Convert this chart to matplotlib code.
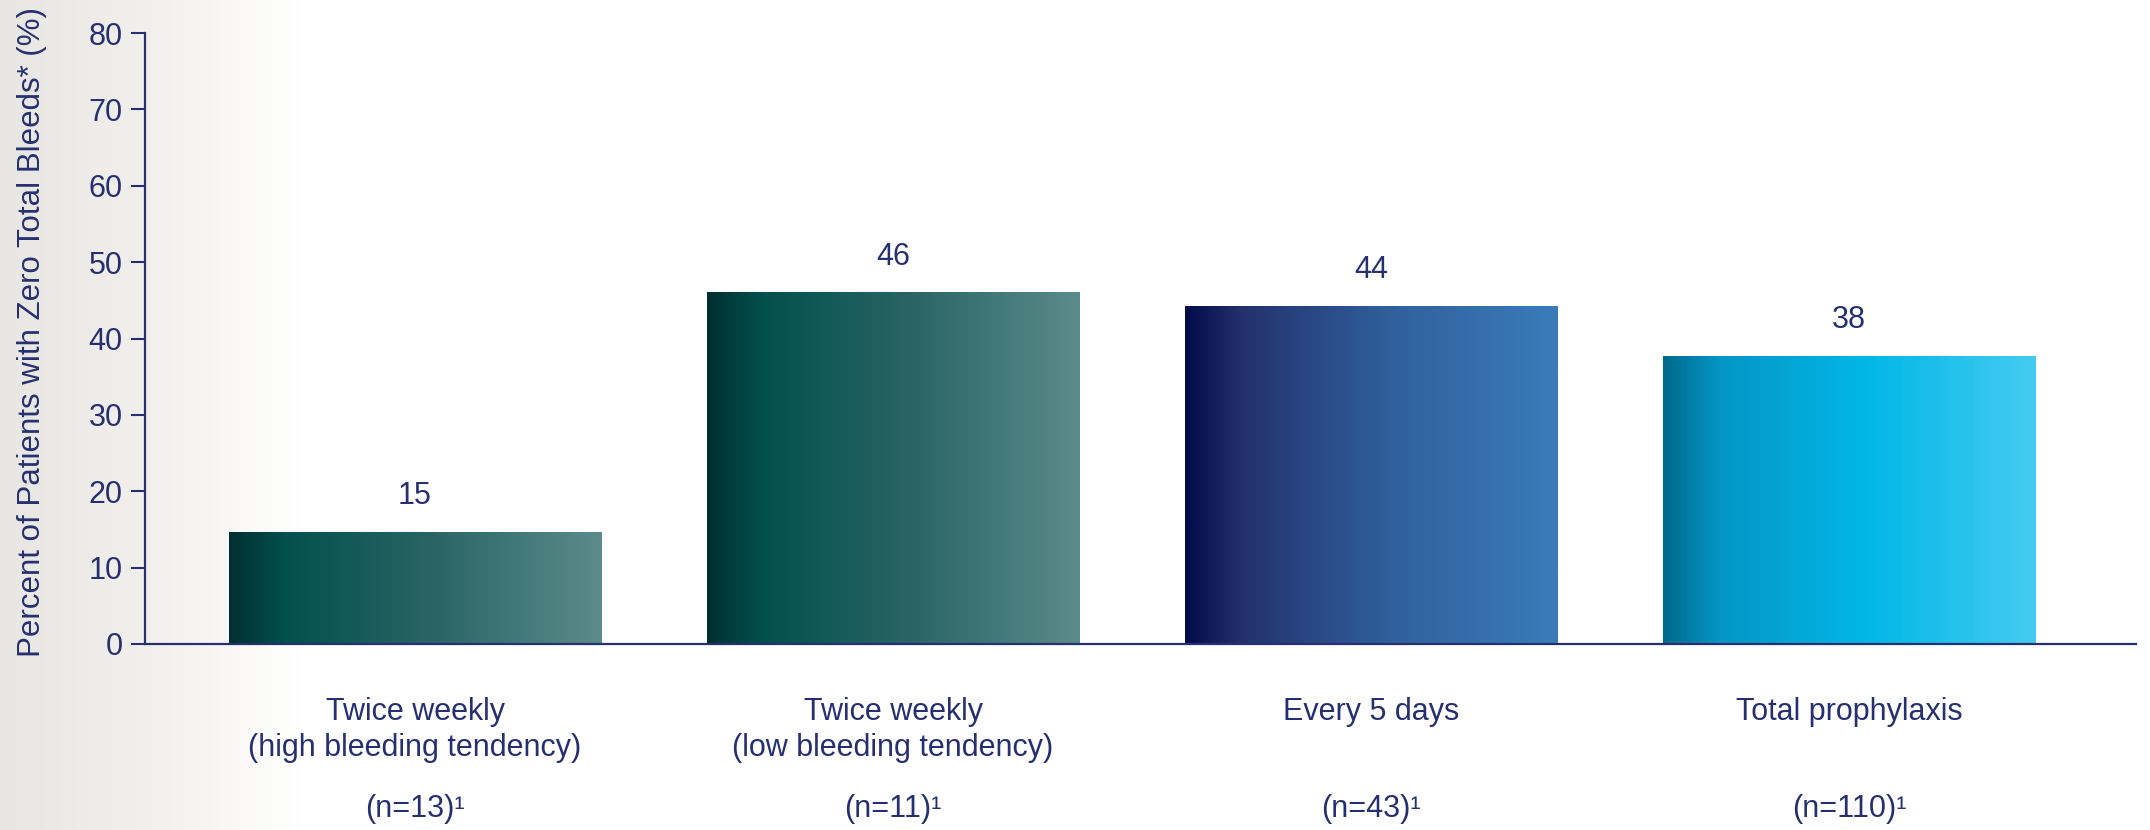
import numpy as np
import matplotlib
matplotlib.use("Agg")
import matplotlib.pyplot as plt
from matplotlib.colors import LinearSegmentedColormap
from matplotlib.transforms import blended_transform_factory

plt.rcParams['font.family'] = ['Liberation Sans', 'DejaVu Sans']

# data
categories = ["Twice weekly\n(high bleeding tendency)",
              "Twice weekly\n(low bleeding tendency)",
              "Every 5 days",
              "Total prophylaxis"]
n_labels = ["(n=13)\u00b9", "(n=11)\u00b9", "(n=43)\u00b9", "(n=110)\u00b9"]
values = [14.6, 46.0, 44.2, 37.7]
value_labels = ["15", "46", "44", "38"]
yticks = [0, 10, 20, 30, 40, 50, 60, 70, 80]

navy = "#263070"
fs = 22

# left-to-right gradient stops for each bar
bar_grads = [
    ["#00302f", "#02504f", "#2a6564", "#5a8c8b"],
    ["#00302f", "#02504f", "#2a6564", "#5a8c8b"],
    ["#020a4a", "#23316c", "#30609c", "#3a7cba"],
    ["#006a8c", "#0495c6", "#02b8e6", "#45cbf2"],
]

fig = plt.figure(figsize=(21.5, 8.3), dpi=100)

# faint grey wash along the left edge only
bg = fig.add_axes([0, 0, 1, 1], zorder=-10)
bg_cmap = LinearSegmentedColormap.from_list("bg", ["#e8e6e2", "#f2f0ed", "#ffffff"])
bg.imshow(np.linspace(0, 1, 256)[None, :], cmap=bg_cmap, aspect="auto",
          extent=[0, 0.14, 0, 1])
bg.set_xlim(0, 1)
bg.set_ylim(0, 1)
bg.set_axis_off()

ax = fig.add_axes([0.0674, 0.2241, 0.9261, 0.7361])
ax.patch.set_alpha(0)

x = np.arange(len(values))
bars = ax.bar(x, values, width=0.78, color="none", edgecolor="none")

grad = np.linspace(0, 1, 256)[None, :]
for b, stops in zip(bars, bar_grads):
    cmap = LinearSegmentedColormap.from_list("g", list(zip([0, 0.15, 0.55, 1.0], stops)))
    x0, w, h = b.get_x(), b.get_width(), b.get_height()
    ax.imshow(grad, cmap=cmap, aspect="auto", extent=[x0, x0 + w, 0, h], zorder=2)

for b, lab in zip(bars, value_labels):
    ax.annotate(lab, (b.get_x() + b.get_width() / 2, b.get_height()),
                xytext=(0, 26), textcoords="offset points",
                ha="center", va="center", fontsize=fs, color=navy)

ax.set_xlim(-0.565, 3.6)
ax.set_ylim(0, 80)
ax.set_yticks(yticks)
ax.set_xticks(x)
ax.set_xticklabels(categories, fontsize=fs, color=navy, linespacing=1.25)
ax.tick_params(axis="x", length=0, pad=38)
ax.tick_params(axis="y", length=10, width=1.5, color=navy, labelsize=fs,
               labelcolor=navy, pad=6)

trans = blended_transform_factory(ax.transData, ax.transAxes)
for xi, nl in zip(x, n_labels):
    ax.text(xi, -0.27, nl, transform=trans, ha="center", va="center",
            fontsize=fs, color=navy)

for side in ["top", "right"]:
    ax.spines[side].set_visible(False)
for side in ["left", "bottom"]:
    ax.spines[side].set_color(navy)
    ax.spines[side].set_linewidth(1.6)

ax.set_ylabel("Percent of Patients with Zero Total Bleeds* (%)", fontsize=22.5,
              color=navy)
ax.yaxis.set_label_coords(-0.049, 0.51)

fig.savefig("out.png", dpi=100)
